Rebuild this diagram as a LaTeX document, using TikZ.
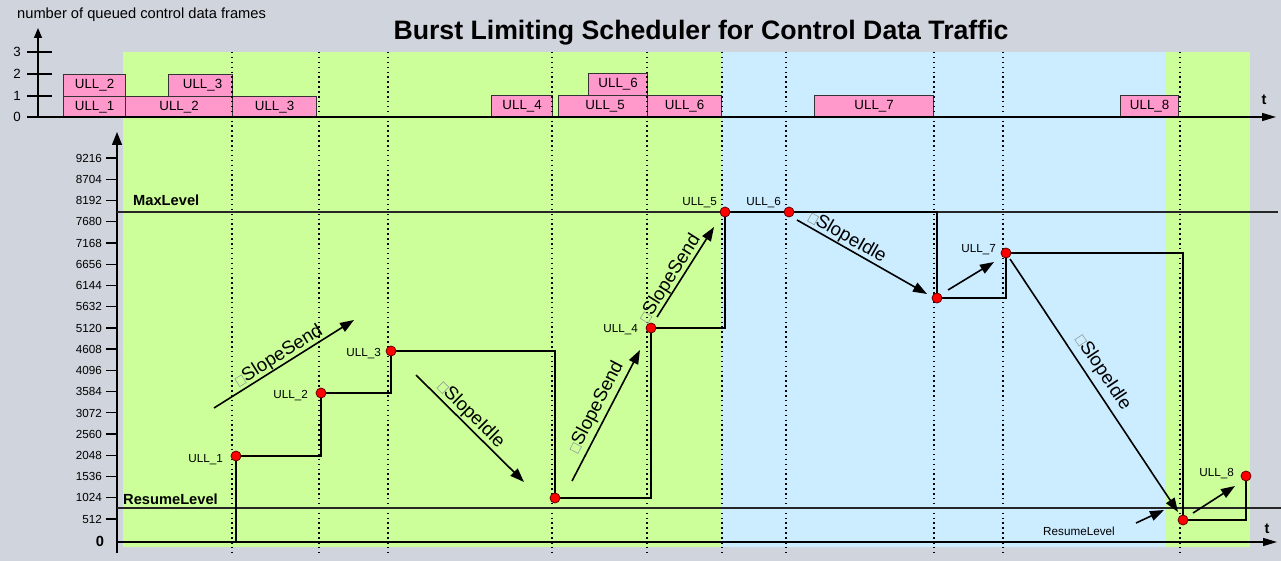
\documentclass[tikz,border=0pt]{standalone}
\usepackage{fontspec}
\setmainfont{Liberation Sans}
\usetikzlibrary{arrows.meta}

\definecolor{bggray}{RGB}{208,212,220}
\definecolor{zonegreen}{RGB}{204,255,153}
\definecolor{zoneblue}{RGB}{204,236,255}
\definecolor{framepink}{RGB}{255,153,204}
\definecolor{dotred}{RGB}{255,0,0}
\definecolor{glyphgray}{RGB}{150,160,150}

% placeholder glyph box shown before the slope names
\newcommand{\nglyph}{{\color{glyphgray}\fboxsep=0pt\fboxrule=0.6pt\fbox{\rule{0pt}{8.5pt}\rule{7pt}{0pt}}}}

\tikzset{
  axisline/.style={line width=1.3pt, black},
  levelline/.style={line width=1.2pt, black!85},
  tickdots/.style={line width=1.5pt, black, dash pattern=on 1.5pt off 3.4pt},
  frame/.style={draw=black!80, line width=1.2pt, fill=framepink, inner sep=0pt,
                font=\fontsize{13.33}{15}\selectfont, anchor=north west},
  stepline/.style={line width=2pt, black},
  dot/.style={circle, fill=dotred, draw=red!40!black, line width=0.8pt,
              minimum size=10pt, inner sep=0pt},
  slopearrow/.style={line width=1.6pt, -{Triangle[length=14pt,width=10pt]}},
  slopelabel/.style={sloped, inner sep=0pt, font=\fontsize{18.67}{20}\selectfont},
  ulllabel/.style={inner sep=0pt, anchor=base east, font=\fontsize{11.7}{13}\selectfont},
  ticklabel/.style={inner sep=0pt, font=\fontsize{11.7}{13}\selectfont},
  boldlabel/.style={inner sep=0pt, font=\fontsize{14.67}{16}\selectfont\bfseries},
}

\begin{document}
\begin{tikzpicture}[x=1pt, y=-1pt]
\useasboundingbox (0,0) rectangle (1281,561);
\fill[bggray] (0,0) rectangle (1281,561);

% operating zones
\fill[zonegreen] (123,52) rectangle (722,547);
\fill[zoneblue] (722,52) rectangle (1165,547);
\fill[zonegreen] (1165,52) rectangle (1250,547);

% titles
\node[inner sep=0pt, anchor=base, font=\fontsize{26.67}{30}\selectfont\bfseries] (title) at (701,40)
  {Burst Limiting Scheduler for Control Data Traffic};
\node[inner sep=0pt, anchor=base west, font=\fontsize{14.67}{16}\selectfont] (qlabel) at (17,19)
  {number of queued control data frames};

% queued frames
\node[frame, minimum width=62pt, minimum height=21pt] (q1) at (63,96) {ULL\_1};
\node[frame, minimum width=62pt, minimum height=22pt] (q2a) at (63,74) {ULL\_2};
\node[frame, minimum width=107pt, minimum height=21pt] (q2b) at (125,96) {ULL\_2};
\node[frame, minimum width=64pt, minimum height=22pt] (q3a) at (168,74) {\hspace{4pt}ULL\_3};
\node[frame, minimum width=84pt, minimum height=21pt] (q3b) at (232,96) {ULL\_3};
\node[frame, minimum width=61pt, minimum height=22pt] (q4) at (491,95) {ULL\_4};
\node[frame, minimum width=89pt, minimum height=22pt] (q5) at (558,95) {\hspace{4pt}ULL\_5};
\node[frame, minimum width=59pt, minimum height=22pt] (q6a) at (588,73) {ULL\_6};
\node[frame, minimum width=74pt, minimum height=22pt] (q6b) at (647,95) {ULL\_6};
\node[frame, minimum width=119pt, minimum height=22pt] (q7) at (814,95) {ULL\_7};
\node[frame, minimum width=58pt, minimum height=22pt] (q8) at (1120,95) {ULL\_8};

% time markers
\foreach \x in {232,319,388,552,647,722,786,934,1003,1180}
  \draw[tickdots] (\x,52) -- (\x,552);

% queue axis
\draw[axisline, -{Triangle[length=10pt,width=8pt]}] (38,117) -- (38,28);
\draw[axisline, -{Triangle[length=14pt,width=8pt]}] (27,117) -- (1276,117);
\foreach \y/\l in {52/3,74/2,96/1} {
  \draw[axisline] (27,\y) -- (52,\y);
  \node[ticklabel, anchor=base, font=\fontsize{13.33}{15}\selectfont] at (17,\y+4.8) {\l};
}
\node[ticklabel, anchor=base, font=\fontsize{13.33}{15}\selectfont] (qzero) at (17,122) {0};
\node[boldlabel, anchor=base] (tq) at (1264,105) {t};

% credit axis
\draw[axisline, -{Triangle[length=13pt,width=10pt]}] (117,553) -- (117,132);
\draw[axisline, -{Triangle[length=14pt,width=8pt]}] (117,542) -- (1277,542);
\foreach \i in {1,...,18} {
  \pgfmathsetmacro{\yy}{540.2-21.23*\i}
  \pgfmathtruncatemacro{\vv}{512*\i}
  \draw[axisline] (106,\yy) -- (117,\yy);
  \node[ticklabel, anchor=base east] at (102,\yy+4.2) {\vv};
}
\node[boldlabel, anchor=base] (czero) at (100,546) {0};
\node[boldlabel, anchor=base] (tc) at (1267,533) {t};

% levels
\draw[levelline] (117,212) -- (1278,212);
\draw[levelline] (117,508) -- (1281,508);
\node[boldlabel, anchor=base west] (maxlab) at (133,206) {MaxLevel};
\node[boldlabel, anchor=base west] (reslab) at (123,504) {ResumeLevel};
\node[ticklabel, anchor=base west] (reslab2) at (1043,535) {ResumeLevel};

% credit curve
\coordinate (s0) at (236,542);
\coordinate (p1) at (236,456);
\coordinate (p2) at (321,393);
\coordinate (p3) at (391,351);
\coordinate (p4) at (555,498);
\coordinate (p5) at (651,328);
\coordinate (p6) at (725,212);
\coordinate (p7) at (789,212);
\coordinate (p8) at (937,298);
\coordinate (p9) at (1006,253);
\coordinate (p10) at (1183,520);
\coordinate (p11) at (1246,476);
\draw[stepline] (s0) -- (p1) -| (p2) -| (p3) -| (p4) -| (p5) -| (p6) -- (p7) -| (p8) -| (p9) -| (p10) -| (p11);

% slope arrows
\coordinate (a1s) at (214,408);  \coordinate (a1e) at (354,320);
\coordinate (a2s) at (416,375);  \coordinate (a2e) at (524,482);
\coordinate (a3s) at (572,481);  \coordinate (a3e) at (640,350);
\coordinate (a4s) at (657,317);  \coordinate (a4e) at (714,227);
\coordinate (a5s) at (797,220);  \coordinate (a5e) at (927,294);
\coordinate (a6s) at (948,290);  \coordinate (a6e) at (994,262);
\coordinate (a7s) at (1010,259); \coordinate (a7e) at (1178,512);
\coordinate (a8s) at (1136,523); \coordinate (a8e) at (1164,510);
\coordinate (a9s) at (1193,513); \coordinate (a9e) at (1235,486);
\draw[slopearrow] (a1s) -- node[slopelabel, pos=0.5, above=0pt] (l1) {\nglyph SlopeSend} (a1e);
\draw[slopearrow] (a2s) -- node[slopelabel, pos=0.44, above=1pt] (l2) {\nglyph SlopeIdle} (a2e);
\draw[slopearrow] (a3s) -- node[slopelabel, pos=0.52, above=3pt] (l3) {\nglyph SlopeSend} (a3e);
\draw[slopearrow] (a4s) -- node[slopelabel, pos=0.37, above=0pt] (l4) {\nglyph SlopeSend} (a4e);
\draw[slopearrow] (a5s) -- node[slopelabel, pos=0.35, above=0pt] (l5) {\nglyph SlopeIdle} (a5e);
\draw[slopearrow] (a6s) -- (a6e);
\draw[slopearrow] (a7s) -- node[slopelabel, pos=0.48, above=5pt] (l7) {\nglyph SlopeIdle} (a7e);
\draw[slopearrow] (a8s) -- (a8e);
\draw[slopearrow] (a9s) -- (a9e);

% frame arrival points
\foreach \k in {1,...,11}
  \node[dot] (d\k) at (p\k) {};

\node[ulllabel] (u1) at (223,462) {ULL\_1};
\node[ulllabel] (u2) at (308,398) {ULL\_2};
\node[ulllabel] (u3) at (381,356) {ULL\_3};
\node[ulllabel] (u4) at (638,332) {ULL\_4};
\node[ulllabel] (u5) at (717,206) {ULL\_5};
\node[ulllabel] (u6) at (781,206) {ULL\_6};
\node[ulllabel] (u7) at (996,252) {ULL\_7};
\node[ulllabel] (u8) at (1234,476) {ULL\_8};
\end{tikzpicture}
\end{document}
